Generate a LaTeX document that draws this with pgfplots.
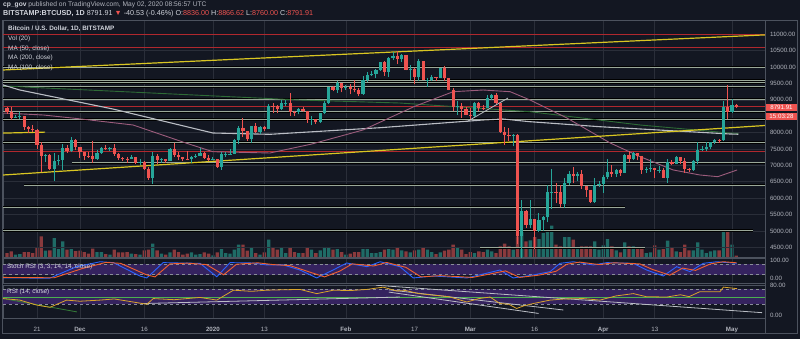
\documentclass[border=0pt]{standalone}
\usepackage{pgfplots}
\pgfplotsset{compat=1.18}
\usepackage{pgfplotstable}
\usepackage{fontspec}
\setmainfont{Liberation Sans}
\definecolor{bg}{HTML}{131722}
\definecolor{gridc}{HTML}{2A2E39}
\definecolor{frame}{HTML}{4C525E}
\definecolor{lab}{HTML}{B2B5BE}
\definecolor{txt}{HTML}{D1D4DC}
\definecolor{up}{HTML}{26A69A}
\definecolor{dn}{HTML}{EF5350}
\definecolor{volup}{HTML}{1F6B66}
\definecolor{voldn}{HTML}{8A3A3D}
\definecolor{hl}{HTML}{9AA899}
\definecolor{hlred}{HTML}{B0282E}
\definecolor{yel}{HTML}{D9C622}
\definecolor{maA}{HTML}{9B5C7C}
\definecolor{maB}{HTML}{BABDC4}
\definecolor{maC}{HTML}{2E6B36}
\definecolor{stk}{HTML}{2962FF}
\definecolor{std}{HTML}{F0602E}
\definecolor{band}{HTML}{35235F}
\definecolor{rsic}{HTML}{D9A42C}
\definecolor{dashc}{HTML}{8A8E99}
\definecolor{rsig}{HTML}{4CAF50}

\pgfplotstableread{
d O H L C V
-7 8760 8790 8570 8630 4
-6 8630 8770 8380 8460 5.7
-5 8460 8540 8440 8490 2.3
-4 8490 8640 8410 8500 3
-3 8500 8510 8080 8170 5
-2 8170 8190 7990 8120 5
-1 8120 8220 8030 8080 4
0 8080 8120 7500 7620 9.7
1 7620 7700 6790 7280 20.7
2 7280 7340 7110 7320 6.3
3 7320 7340 6860 6900 6.7
4 6900 7370 6530 7130 19
5 7130 7330 7010 7160 8
6 7160 7650 6860 7520 15.7
7 7520 7620 7390 7440 7.3
8 7440 7870 7410 7760 8
9 7760 7800 7480 7560 6
10 7560 7560 7240 7400 6.3
11 7400 7420 7160 7290 5
12 7290 7400 7230 7280 3.3
13 7280 7750 7080 7200 8.3
14 7200 7480 7170 7390 5
15 7390 7570 7360 7530 5
16 7530 7620 7480 7500 3
17 7500 7570 7450 7520 2.3
18 7520 7650 7290 7340 7.3
19 7340 7390 7160 7220 4.7
20 7220 7270 7130 7200 4.7
21 7200 7250 7070 7190 5
22 7190 7310 7180 7250 3.3
23 7250 7270 7030 7070 3
24 7070 7180 7020 7110 2.3
25 7110 7140 6860 6880 6.7
26 6880 6940 6560 6620 7.3
27 6620 7420 6430 7280 13.3
28 7280 7360 7040 7150 6.7
29 7150 7210 7080 7190 3.3
30 7190 7190 7080 7140 2.3
31 7140 7520 7130 7510 4.7
32 7510 7690 7270 7320 7.3
33 7320 7420 7160 7250 5
34 7250 7270 7130 7200 2.3
35 7200 7440 7150 7190 3.3
36 7190 7290 7060 7250 4.7
37 7250 7360 7240 7300 2.3
38 7300 7520 7280 7390 3
39 7390 7420 7200 7220 4.7
40 7220 7330 7140 7170 3.3
41 7170 7250 7150 7180 1.7
42 7180 7190 6920 6950 4.7
43 6950 7400 6870 7340 8
44 7340 7400 7270 7350 4
45 7350 7500 7320 7360 3.3
46 7360 7800 7350 7760 7.3
47 7760 8210 7650 8150 12.3
48 8150 8460 7880 8050 12.3
49 8050 8050 7750 7820 6.3
50 7820 8200 7670 8190 9
51 8190 8290 8000 8020 4
52 8020 8190 7970 8180 2.3
53 8180 8190 8050 8110 4.7
54 8110 8880 8100 8820 17.3
55 8820 8900 8600 8810 9
56 8810 8840 8600 8720 7.3
57 8720 9000 8680 8900 9.7
58 8900 9000 8800 8910 4
59 8910 9200 8500 8630 9
60 8630 8670 8520 8620 5
61 8620 8760 8560 8730 4
62 8730 8780 8620 8660 4
63 8660 8670 8300 8380 9
64 8380 8500 8220 8430 7.3
65 8430 8430 8260 8330 4
66 8330 8600 8300 8590 6.7
67 8590 8970 8560 8900 10
68 8900 9400 8880 9380 10
69 9380 9420 9260 9300 7.3
70 9300 9560 9220 9500 8
71 9500 9520 9230 9350 5
72 9350 9460 9310 9380 2.3
73 9380 9470 9170 9340 3.3
74 9340 9600 9230 9290 5
75 9290 9350 9110 9180 5
76 9180 9730 9160 9610 8
77 9610 9860 9530 9750 8
78 9750 9870 9720 9800 4
79 9800 9950 9660 9900 4
80 9900 10160 9880 10160 5
81 10160 10170 9730 9850 7.3
82 9850 10300 9710 10270 8
83 10270 10460 10230 10350 7.3
84 10350 10500 10100 10240 9.7
85 10240 10400 10160 10360 6.7
86 10360 10380 9900 9900 5.7
87 9900 10070 9600 9930 4.7
88 9930 9960 9490 9690 6.7
89 9690 10250 9590 10180 7.3
90 10180 10190 9600 9600 10
91 9600 9670 9390 9610 7.3
92 9610 9760 9580 9690 5
93 9690 9690 9580 9660 3
94 9660 9980 9660 9960 4.7
95 9960 10020 9570 9660 6.3
96 9660 9660 9290 9310 7.3
97 9310 9370 8660 8780 12.3
98 8780 8950 8550 8810 9.7
99 8810 8890 8450 8710 7.3
100 8710 8790 8530 8540 3
101 8540 8750 8410 8520 5
102 8520 8930 8490 8910 4
103 8910 8920 8650 8760 5.7
104 8760 8840 8680 8750 5
105 8750 9140 8750 9070 7.3
106 9070 9180 8990 9150 5.7
107 9150 9200 8870 8890 4
108 8890 8900 8000 8030 10.7
109 8030 8180 7630 7930 13.3
110 7930 8150 7730 7890 10.7
111 7890 7970 7580 7940 7.3
112 7940 7960 4600 4860 20.7
113 4860 5950 3850 5600 25
114 5600 5640 5090 5170 15.7
115 5170 5950 5100 5360 16.7
116 5360 5370 4440 5000 20
117 5000 5550 4970 5330 18
118 5330 5440 5000 5410 24
119 5410 6390 5260 6190 25.7
120 6190 6900 5680 6200 31.3
121 6200 6460 5860 6190 12.3
122 6190 6410 5740 5830 10.7
123 5830 6620 5700 6470 20
124 6470 6830 6400 6740 20
125 6740 6960 6470 6680 17.3
126 6680 6790 6530 6740 8
127 6740 6860 6270 6370 10.7
128 6370 6370 6030 6250 10.7
129 6250 6260 5860 5880 10.7
130 5880 6600 5860 6400 15.7
131 6400 6520 6330 6420 7.3
132 6420 6700 6160 6640 11.7
133 6640 7180 6580 6800 18
134 6800 7010 6650 6740 10.7
135 6740 6900 6660 6870 6.7
136 6870 6880 6680 6780 4.7
137 6780 7360 6780 7330 14.7
138 7330 7450 7090 7200 10.7
139 7200 7420 7160 7370 10.7
140 7370 7380 7150 7290 9
141 7290 7300 6750 6870 9
142 6870 6940 6780 6890 4
143 6890 7180 6810 6910 4.7
144 6910 6920 6610 6860 11.7
145 6860 6990 6780 6870 7.3
146 6870 6930 6620 6630 8
147 6630 7190 6470 7100 16.3
148 7100 7150 7000 7040 9
149 7040 7300 7030 7260 5.7
150 7260 7260 7050 7140 5
151 7140 7220 6780 6880 12.3
152 6880 6930 6800 6850 6.7
153 6850 7150 6830 7130 6.7
154 7130 7720 7030 7480 14.7
155 7480 7600 7440 7510 7.3
156 7510 7700 7440 7550 4
157 7550 7720 7500 7700 5.7
158 7700 7790 7660 7770 6.7
159 7770 7790 7680 7760 6.7
160 7760 8960 7740 8780 26.3
161 8780 9460 8420 8620 25
162 8620 9030 8600 8830 12.3
163 8836 8867 8760 8792 1.3
}\candles

\pgfplotsset{
  tvpane/.style={
    scale only axis, width=762bp, anchor=south west,
    xmin=-7.93, xmax=169.7,
    axis line style={draw=frame, line width=0.9bp},
    xtick={0,10,25,41,53,72,88,101,116,132,144,162},
    xticklabels={},
    xmajorgrids, grid style={draw=gridc, line width=0.6bp},
    major tick length=0pt,
    yticklabel pos=right, scaled y ticks=false,
    yticklabel style={font=\fontsize{6.2}{7}\selectfont, text=lab, anchor=west, xshift=1.5bp,
      /pgf/number format/fixed, /pgf/number format/fixed zerofill,
      /pgf/number format/precision=2, /pgf/number format/1000 sep={},
      /pgf/number format/assume math mode=true},
  },
  upf/.style={restrict expr to domain={\thisrow{C}-\thisrow{O}}{0:100000}},
  dnf/.style={restrict expr to domain={\thisrow{C}-\thisrow{O}}{-100000:-0.001}},
}

\begin{document}
\begin{tikzpicture}[x=1bp,y=1bp]
\fill[bg] (0,0) rectangle (800,339);

% ---------- volume (behind) ----------
\begin{axis}[scale only axis, width=762bp, height=236.3bp, at={(3bp,82bp)}, anchor=south west,
  xmin=-7.93, xmax=169.7, ymin=0, ymax=236.3, hide axis]
\addplot[ybar, bar width=3.3bp, bar shift=0pt, fill=volup, draw=none, upf] table[x=d,y=V] {\candles};
\addplot[ybar, bar width=3.3bp, bar shift=0pt, fill=voldn, draw=none, dnf] table[x=d,y=V] {\candles};
\end{axis}

% ---------- main price pane ----------
\begin{axis}[tvpane, height=236.3bp, at={(3bp,82bp)},
  ymin=4204, ymax=11415,
  ytick={4500,5000,5500,6000,6500,7000,7500,8000,9000,9500,10000,10500,11000},
  ymajorgrids]
% horizontal levels
\pgfplotsinvokeforeach{10000,9600,9530,9400,9020,8640,8400,7700}{
  \addplot[draw=black, line width=2.2bp, forget plot] coordinates {(-8,#1) (170,#1)};
  \addplot[draw=hl, line width=1bp, forget plot] coordinates {(-8,#1) (170,#1)};
}
\addplot[draw=black, line width=2.2bp] coordinates {(8.2,7080) (170,7080)};
\addplot[draw=hl, line width=1bp] coordinates {(8.2,7080) (170,7080)};
\addplot[draw=black, line width=2.2bp] coordinates {(-3,6400) (170,6400)};
\addplot[draw=hl, line width=1bp] coordinates {(-3,6400) (170,6400)};
\addplot[draw=black, line width=2.2bp] coordinates {(-8,5720) (137,5720)};
\addplot[draw=hl, line width=1bp] coordinates {(-8,5720) (137,5720)};
\addplot[draw=black, line width=2.2bp] coordinates {(-8,5010) (166.9,5010)};
\addplot[draw=hl, line width=1bp] coordinates {(-8,5010) (166.9,5010)};
\addplot[draw=black, line width=2.2bp] coordinates {(103.3,4490) (141.7,4490)};
\addplot[draw=hl, line width=1bp] coordinates {(103.3,4490) (141.7,4490)};
\pgfplotsinvokeforeach{10985,10600,8790,7410}{
  \addplot[draw=hlred, line width=1bp, forget plot] coordinates {(-8,#1) (170,#1)};
}
% moving averages
\addplot[draw=maC, line width=0.9bp] coordinates {(-7.93,9422) (20,9250) (61.3,8995) (84.6,8903) (114.9,8638) (140.6,8232) (161.5,7988) (163.5,7975)};
\addplot[draw=maB, line width=1.1bp] coordinates {(-7.93,9453) (-4,9300) (17.7,8720) (41,7988) (54.3,7948) (80,8150) (104,8385) (108.6,8415) (114.9,8333) (131.2,8180) (161.5,7958) (163.5,7950)};
\addplot[draw=maA, line width=0.9bp] coordinates {(-7.93,8598) (1.5,8537) (10,8420) (22.4,8232) (34.9,7674) (41,7417) (54.3,7378) (64,7650) (76,8080) (88,8800) (97,9248) (104,9300) (110.3,9248) (114.9,8997) (123.5,8447) (133.6,7684) (140.6,7265) (148.3,6860) (154.5,6707) (158.7,6655) (163.2,6860)};
% trend lines
\addplot[draw=maB, line width=0.8bp] coordinates {(100.2,8333) (109.8,9056)};
\addplot[draw=yel, line width=1.2bp] coordinates {(-7.93,9911) (169.7,10982)};
\addplot[draw=yel, line width=1.2bp] coordinates {(-7.93,6706) (169.7,8217)};
\addplot[draw=yel, line width=1.2bp] coordinates {(-7.93,7985) (1.9,8015)};
% candles
\addplot[draw=up, line width=0.9bp, mark=none, upf, quiver={u=0, v=\thisrow{H}-\thisrow{L}}] table[x=d,y=L] {\candles};
\addplot[draw=dn, line width=0.9bp, mark=none, dnf, quiver={u=0, v=\thisrow{H}-\thisrow{L}}] table[x=d,y=L] {\candles};
\addplot[draw=up, line width=3.2bp, mark=none, upf, quiver={u=0, v=\thisrow{C}-\thisrow{O}}] table[x=d,y=O] {\candles};
\addplot[draw=dn, line width=3.2bp, mark=none, dnf, quiver={u=0, v=\thisrow{C}-\thisrow{O}}] table[x=d,y=O] {\candles};
\end{axis}

% ---------- Stoch RSI pane ----------
\begin{axis}[tvpane, height=25bp, at={(3bp,55.7bp)},
  ymin=-28.4, ymax=113.6, ytick={0,100}]
\addplot[fill=band, draw=none] coordinates {(-8,20) (170,20) (170,80) (-8,80)};
\addplot[draw=dashc, dashed, line width=0.6bp] coordinates {(-8,80) (170,80)};
\addplot[draw=dashc, dashed, line width=0.6bp] coordinates {(-8,20) (170,20)};
\addplot[draw=stk, line width=0.9bp] coordinates {(-7.9,2) (3,1) (9.2,66) (14.7,94) (17.8,89) (24,13) (25.6,2) (29.4,89) (33.3,87) (38,85) (41.9,9) (45,89) (50.4,87) (53.5,76) (57.4,76) (61.3,47) (65.2,2) (69,47) (72.2,87) (76.9,66) (80,94) (84.6,66) (87.7,2) (92.4,13) (96,8) (100.2,2) (107.9,47) (111,2) (115.7,19) (119.6,38) (121.9,85) (125,94) (129.7,76) (132.8,89) (139,85) (142.1,47) (146,13) (149.1,66) (152.2,38) (155.3,85) (158.4,94) (163.1,85)};
\addplot[draw=std, line width=0.9bp] coordinates {(-7.9,5) (4,3) (10.5,55) (16,90) (19.5,85) (25.5,20) (27.5,8) (31,82) (35,86) (39.5,78) (43.5,20) (46.5,80) (51.5,88) (55,78) (59,72) (63,40) (67,8) (70.5,40) (73.5,82) (78.5,70) (81.5,90) (86,62) (89.5,8) (94,15) (101.5,5) (109.2,42) (112.5,5) (117,18) (121,40) (123.5,80) (126.5,92) (131,78) (134.5,88) (140.5,82) (143.5,50) (147.5,18) (150.5,58) (153.5,45) (157,82) (160,94) (163.1,88)};
\end{axis}

% ---------- RSI pane ----------
\begin{axis}[tvpane, height=33.3bp, at={(3bp,20.7bp)},
  ymin=-6.8, ymax=80.6, ytick={0,80},
  xticklabels={21,\textbf{Dec},16,\textbf{2020},13,\textbf{Feb},17,\textbf{Mar},16,\textbf{Apr},13,\textbf{May}},
  xticklabel style={font=\fontsize{6.2}{7}\selectfont, text=lab, yshift=-5bp}]
\addplot[fill=band, draw=none] coordinates {(-8,30) (170,30) (170,70) (-8,70)};
\addplot[draw=dashc, dashed, line width=0.6bp] coordinates {(-8,70) (170,70)};
\addplot[draw=dashc, dashed, line width=0.6bp] coordinates {(-8,30) (170,30)};
\addplot[draw=rsig, line width=0.8bp] coordinates {(-7.93,48.5) (169.7,48.5)};
\addplot[draw=rsig!70!black, line width=0.8bp] coordinates {(-7.9,45) (9.3,10)};
\addplot[draw=maB, line width=0.8bp] coordinates {(24.8,32) (84.6,49)};
\addplot[draw=maB, line width=0.8bp] coordinates {(79,80) (169,8)};
\addplot[draw=maB, line width=0.8bp] coordinates {(82,68) (122.7,15)};
\addplot[draw=maB, line width=0.8bp] coordinates {(82,62) (116.9,6)};
\addplot[draw=rsic, line width=0.8bp] coordinates {(-7.9,45) (-4,41) (-0.1,28) (3,22) (6.9,41) (10,38) (14.7,41) (18,44) (22.4,36) (25.6,30) (27.1,45) (32,42) (38,48) (41.9,41) (45.8,67) (50,64) (53.5,67) (57,68) (61.3,69) (65.2,58) (69.1,67) (73,66) (76.9,69) (80.7,75) (83.8,65) (86,66) (89,58) (92.4,54) (96,50) (100.2,36) (103,45) (105.6,49) (107.9,32) (110,30) (111.8,19) (113.5,26) (115.7,32) (119.6,41) (123,44) (127.3,45) (131.2,41) (135,52) (139,58) (142,50) (146.8,49) (150,55) (152,50) (154.5,63) (159.2,63) (160,75) (163.2,71)};
\end{axis}

% ---------- frame and texts ----------
\draw[frame, line width=0.9bp] (2.5,5.7) rectangle (797,318.3);
\draw[frame, line width=0.9bp] (765,5.7) -- (765,318.3);

\node[anchor=west, inner sep=0, font=\fontsize{6.7}{7}\selectfont, text=lab] at (3,334)
  {\textcolor{txt}{\textbf{cp\_gov}} published on TradingView.com, May 02, 2020 08:56:57 UTC};
\node[anchor=west, inner sep=0, font=\fontsize{7.2}{8}\selectfont, text=txt] at (3,325)
  {\textbf{BITSTAMP:BTCUSD, 1D} 8791.91 \textcolor{dn}{▼} -40.53 (-0.46\%) O:\textcolor{dn}{8836.00} H:\textcolor{dn}{8866.62} L:\textcolor{dn}{8760.00} C:\textcolor{dn}{8791.91}};

\node[anchor=west, inner sep=0, font=\fontsize{6.4}{7}\selectfont\bfseries, text=txt] at (8,310) {Bitcoin / U.S. Dollar, 1D, BITSTAMP};
\node[anchor=west, inner sep=0, font=\fontsize{6.4}{7}\selectfont, text=txt] at (8,300.5) {Vol (20)};
\node[anchor=west, inner sep=0, font=\fontsize{6.4}{7}\selectfont, text=txt] at (8,290.5) {MA (50, close)};
\node[anchor=west, inner sep=0, font=\fontsize{6.4}{7}\selectfont, text=txt] at (8,281) {MA (200, close)};
\node[anchor=west, inner sep=0, font=\fontsize{6.4}{7}\selectfont, text=txt] at (8,271.5) {MA (100, close)};
\node[anchor=west, inner sep=0, font=\fontsize{6.4}{7}\selectfont, text=txt] at (7,72.3) {Stoch RSI (3, 3, 14, 14, close)};
\node[anchor=west, inner sep=0, font=\fontsize{6.4}{7}\selectfont, text=txt] at (7,46.7) {RSI (14, close)};

\fill[dn] (765.5,228.3) rectangle (797,235);
\node[text=white, inner sep=0, font=\fontsize{6.2}{7}\selectfont] at (781.5,231.6) {8791.91};
\fill[dn] (765.5,219) rectangle (797,225.7);
\node[text=white, inner sep=0, font=\fontsize{6.2}{7}\selectfont] at (781.5,222.3) {15:03:28};

\pgfresetboundingbox
\path (0,0) rectangle (800,339);
\end{tikzpicture}
\end{document}
